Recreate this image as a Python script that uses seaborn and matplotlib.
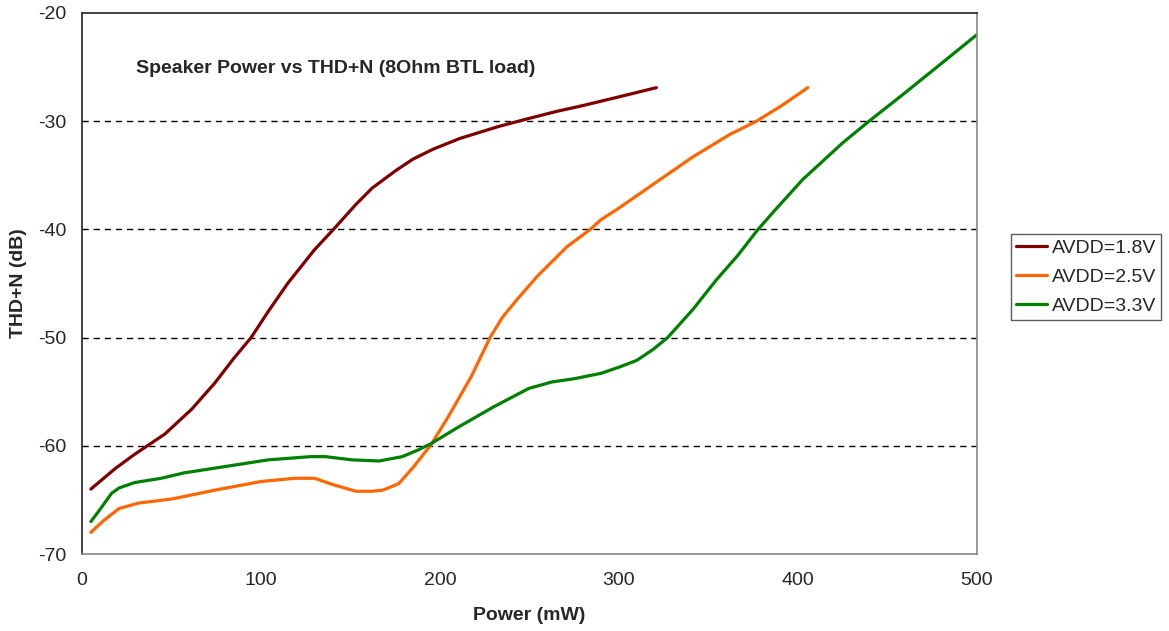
import pandas as pd
import matplotlib
matplotlib.use('Agg')
import matplotlib.pyplot as plt
import seaborn as sns

# values (Power in mW, THD+N in dB)
p_18 = [5, 10, 18.6, 29.3, 37.9, 46.4, 61.4, 74.2, 84.9, 94.5, 104, 114.9, 129.8,
        140.5, 153, 162, 175, 185, 196, 211, 232.5, 249.6, 265, 280, 300, 320.9]
thd_18 = [-64.0, -63.3, -62.1, -60.8, -59.85, -58.9, -56.6, -54.2, -51.9, -50.0, -47.6, -45.0, -41.9,
          -40.0, -37.7, -36.2, -34.6, -33.5, -32.6, -31.6, -30.5, -29.75, -29.1, -28.55, -27.75, -26.9]

p_25 = [5, 12.2, 20.7, 31.4, 50.7, 74.2, 100, 119, 130, 140.5, 153, 162, 168, 177, 185.5,
        195, 204.7, 217.5, 228, 235, 243, 254, 271, 284, 290, 299.4, 320.3, 341.3, 362.2, 376.9, 391.5, 405.5]
thd_25 = [-68.0, -66.9, -65.8, -65.3, -64.9, -64.1, -63.3, -63.0, -63.0, -63.6, -64.2, -64.2, -64.1, -63.5, -61.9,
          -59.9, -57.3, -53.6, -50.0, -48.1, -46.5, -44.4, -41.6, -40.0, -39.1, -38.1, -35.7, -33.3, -31.2, -30.0, -28.5, -26.9]

p_33 = [5, 10, 16.5, 20.7, 29.3, 44.3, 57.1, 80.6, 104, 127.7, 136, 151, 166, 179, 187.6, 195,
        211, 230, 249.6, 262.5, 275, 290, 300.6, 310, 319, 327.2, 341.3, 354.5, 366.4, 377.7, 387.3,
        402.6, 425, 439.7, 458.5, 479.5, 500]
thd_33 = [-67.0, -65.9, -64.4, -63.9, -63.4, -63.0, -62.5, -61.9, -61.3, -61.0, -61.0, -61.3, -61.4, -61.0, -60.4, -59.8,
          -58.2, -56.4, -54.7, -54.1, -53.8, -53.3, -52.7, -52.1, -51.1, -50.0, -47.4, -44.65, -42.4, -40.0, -38.2,
          -35.4, -32.0, -30.0, -27.55, -24.75, -22.0]

labels = ['AVDD=1.8V', 'AVDD=2.5V', 'AVDD=3.3V']
colors = ['#800000', '#FF6600', '#008000']

df = pd.DataFrame({
    'Power': p_18 + p_25 + p_33,
    'THD': thd_18 + thd_25 + thd_33,
    'Supply': [labels[0]] * len(p_18) + [labels[1]] * len(p_25) + [labels[2]] * len(p_33),
})

sns.set_style('white')
plt.rcParams['font.family'] = ['Liberation Sans', 'DejaVu Sans']
plt.rcParams['axes.unicode_minus'] = False

fig = plt.figure(figsize=(11.69, 6.31), dpi=100)
ax = fig.add_axes([0.0701, 0.1220, 0.7656, 0.8574])

sns.lineplot(data=df, x='Power', y='THD', hue='Supply', palette=colors,
             linewidth=2.3, ax=ax)
for line in ax.get_lines():
    line.set_solid_joinstyle('round')

ax.set_xlim(0, 500)
ax.set_ylim(-70, -20)
ax.set_xticks([0, 100, 200, 300, 400, 500])
ax.set_yticks([-70, -60, -50, -40, -30, -20])
ax.tick_params(axis='both', length=0, labelsize=14)
ax.tick_params(axis='y', pad=11)
ax.tick_params(axis='x', pad=13)

# dashed gridlines
for yv in [-60, -50, -40, -30]:
    ax.axhline(yv, color='black', lw=1.0, ls=(0, (4.5, 3.5)), zorder=0)

for side in ['left', 'top']:
    ax.spines[side].set_color('#222222')
for side in ['right', 'bottom']:
    ax.spines[side].set_color('#888888')
for s in ax.spines.values():
    s.set_linewidth(1.2)

ax.set_xlabel('Power (mW)', fontsize=14, fontweight='bold')
ax.set_ylabel('THD+N (dB)', fontsize=14, fontweight='bold')
ax.xaxis.set_label_coords(0.5, -0.098)
ax.yaxis.set_label_coords(-0.061, 0.5)

ax.text(0.0603, 0.898, 'Speaker Power vs THD+N (8Ohm BTL load)', transform=ax.transAxes,
        fontsize=14, fontweight='bold', ha='left', va='center')

leg = ax.legend(loc='center left', bbox_to_anchor=(0.865, 0.561),
                bbox_transform=fig.transFigure, fontsize=14, frameon=True,
                fancybox=False, borderaxespad=0, handlelength=1.6,
                handletextpad=0.25, labelspacing=0.58, borderpad=0.25)
leg.get_frame().set_edgecolor('#333333')
leg.get_frame().set_linewidth(1.0)
for line in leg.get_lines():
    line.set_linewidth(2.3)

fig.savefig('out.png', dpi=100)
